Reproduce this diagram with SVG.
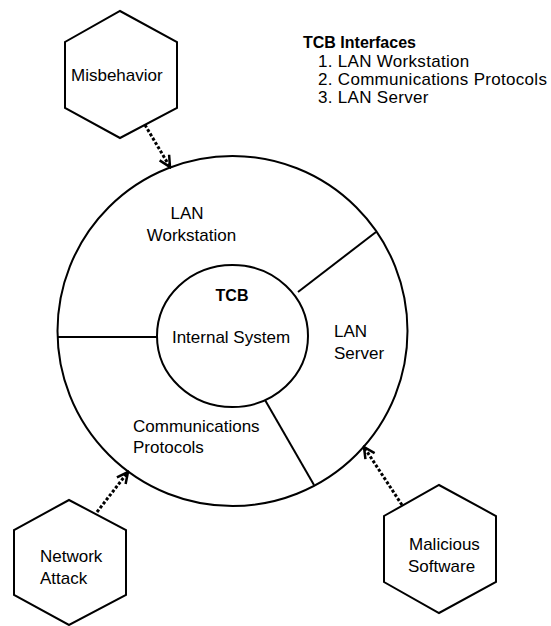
<svg xmlns="http://www.w3.org/2000/svg" width="551" height="626" viewBox="0 0 551 626">
<style>
.shape{fill:#fff;stroke:#000;stroke-width:2}
.div{stroke:#000;stroke-width:2;fill:none}
.t{font-family:"Liberation Sans",Arial,sans-serif;font-size:17px;fill:#000}
.b{font-family:"Liberation Sans",Arial,sans-serif;font-size:16px;font-weight:bold;fill:#000}
.list{letter-spacing:0.3px}
.dot{stroke:#000;stroke-width:3;stroke-dasharray:3 2;fill:none}
</style>
<defs>
<marker id="arr" markerUnits="userSpaceOnUse" markerWidth="14" markerHeight="14" refX="12" refY="7" orient="auto" viewBox="0 0 14 14">
<path d="M1,1.5 L12,7 L1,12.5" fill="none" stroke="#000" stroke-width="2.5"/>
</marker>
</defs>
<rect width="551" height="626" fill="#fff"/>
<g id="legend">
<text class="b" x="303" y="48">TCB Interfaces</text>
<text class="t list" x="318" y="67">1. LAN Workstation</text>
<text class="t list" x="318" y="85">2. Communications Protocols</text>
<text class="t list" x="318" y="103">3. LAN Server</text>
</g>
<g id="outer-ring">
<circle class="shape" cx="232.5" cy="331" r="175"/>
</g>
<g id="dividers">
<line class="div" x1="58" y1="337" x2="158" y2="337"/>
<line class="div" x1="298" y1="292" x2="376" y2="232"/>
<line class="div" x1="265" y1="400" x2="314" y2="485"/>
</g>
<g id="lan-workstation">
<text class="t" x="187" y="219" text-anchor="middle">LAN</text>
<text class="t" x="191.5" y="241" text-anchor="middle">Workstation</text>
</g>
<g id="lan-server">
<text class="t" x="334" y="337">LAN</text>
<text class="t" x="334" y="359">Server</text>
</g>
<g id="communications-protocols">
<text class="t" x="133" y="432">Communications</text>
<text class="t" x="133" y="453">Protocols</text>
</g>
<g id="tcb">
<ellipse class="shape" cx="232.5" cy="336" rx="75.5" ry="71"/>
<text class="b" x="232" y="301" text-anchor="middle">TCB</text>
<text class="t" x="231" y="343" text-anchor="middle">Internal System</text>
</g>
<g id="misbehavior">
<polygon class="shape" points="120,11 177,42 177,108 120,138 65,108 65,42"/>
<text class="t" x="71" y="81">Misbehavior</text>
</g>
<g id="network-attack">
<polygon class="shape" points="69,500 126,530 126,595 69,625 14,595 14,530"/>
<text class="t" x="40" y="562">Network</text>
<text class="t" x="40" y="584">Attack</text>
</g>
<g id="malicious-software">
<polygon class="shape" points="439,485 496,516 496,582 439,613 384,582 384,516"/>
<text class="t" x="409" y="550">Malicious</text>
<text class="t" x="408" y="572">Software</text>
</g>
<g id="connectors">
<line class="dot" x1="145" y1="125" x2="170" y2="167" marker-end="url(#arr)"/>
<line class="dot" x1="97" y1="512" x2="128" y2="472" marker-end="url(#arr)"/>
<line class="dot" x1="402" y1="505" x2="364" y2="447" marker-end="url(#arr)"/>
</g>
</svg>
